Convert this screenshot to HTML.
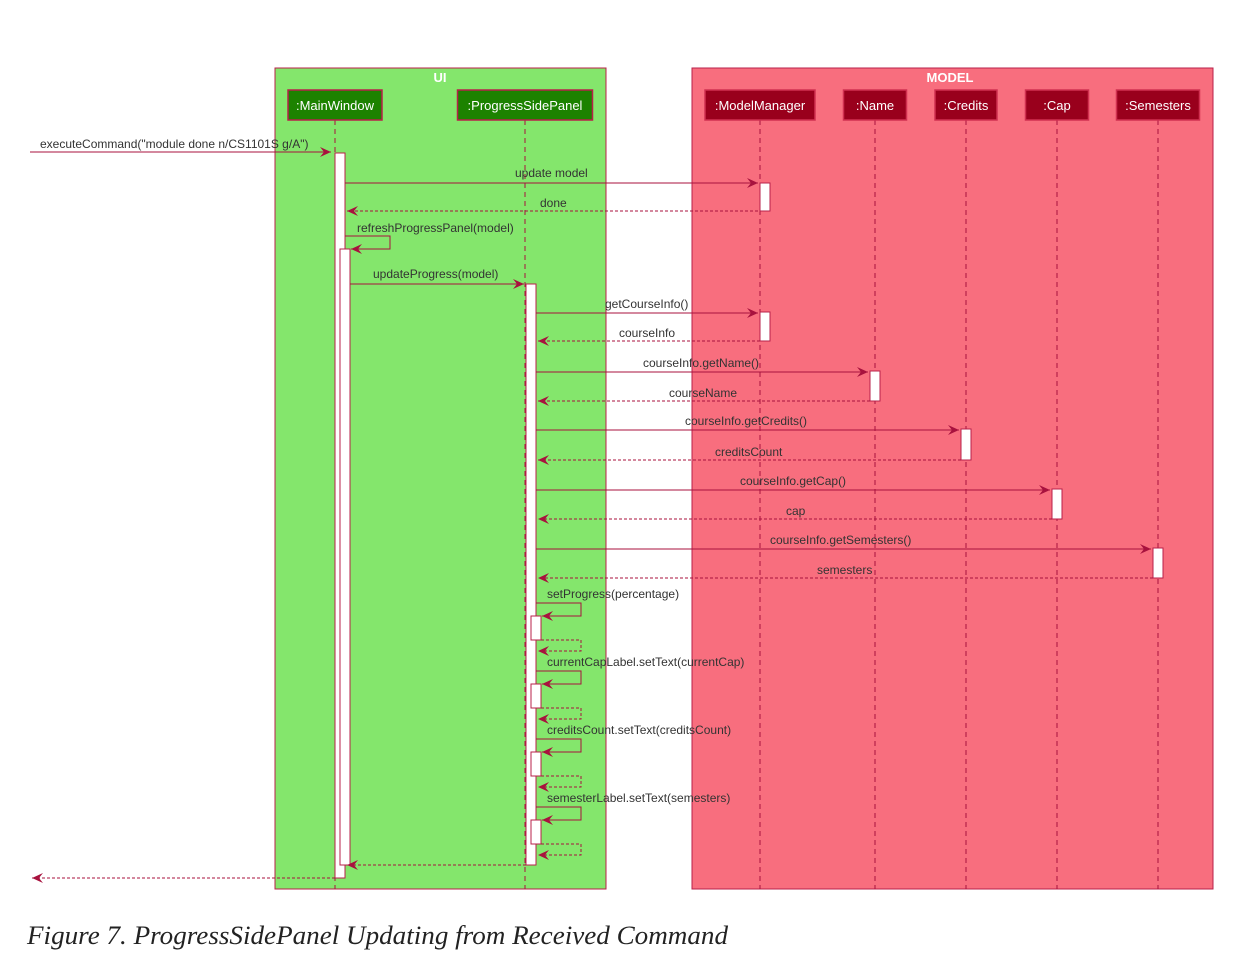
<!DOCTYPE html>
<html><head><meta charset="utf-8"><style>
html,body{margin:0;padding:0;background:#fff;width:1244px;height:960px;overflow:hidden}
svg text{font-family:"Liberation Sans",sans-serif}
svg text.cap{font-family:"Liberation Serif",serif}
</style></head><body>
<svg id="d" width="1244" height="960" viewBox="0 0 1244 960">
<defs><marker id="ah" markerWidth="12" markerHeight="10" refX="11" refY="5" orient="auto" markerUnits="userSpaceOnUse"><path d="M0,0 L11,5 L0,10 L4,5 Z" fill="#a8123e"/></marker></defs>
<rect x="275" y="68" width="331" height="821" fill="#84e66c" stroke="#b8204a" stroke-width="1"/>
<text x="440" y="82" fill="#fff" font-size="13" font-weight="bold" text-anchor="middle">UI</text>
<rect x="692" y="68" width="521" height="821" fill="#f86e7e" stroke="#b8204a" stroke-width="1"/>
<text x="950" y="82" fill="#fff" font-size="13" font-weight="bold" text-anchor="middle">MODEL</text>
<g id="g"></g>
<text class="cap" x="27" y="944" font-style="italic" font-size="26" textLength="701" lengthAdjust="spacingAndGlyphs" fill="#222">Figure 7. ProgressSidePanel Updating from Received Command</text>
</svg>
<script>
const names=[":MainWindow",":ProgressSidePanel",":ModelManager",":Name",":Credits",":Cap",":Semesters"];
const lifeX=[335,525,760,875,966,1057,1158];
const boxW=[94,135,110,63,62,63,83];
const calls=[["getCourseInfo()","courseInfo",2,313,341,605,619],["courseInfo.getName()","courseName",3,372,401,643,669],["courseInfo.getCredits()","creditsCount",4,430,460,685,715],["courseInfo.getCap()","cap",5,490,519,740,786],["courseInfo.getSemesters()","semesters",6,549,578,770,817]];
const selfCalls=["setProgress(percentage)","currentCapLabel.setText(currentCap)","creditsCount.setText(creditsCount)","semesterLabel.setText(semesters)"];
const g=document.getElementById('g');const NS="http://www.w3.org/2000/svg";
function el(t,a,name){const e=document.createElementNS(NS,t);for(const k in a)e.setAttribute(k,a[k]);


g.appendChild(e);return e;}
function txt(x,y,s,name){const e=el('text',{x:x,y:y,'font-size':12,fill:'#333'},name);e.textContent=s;return e;}
const C="#a8123e";
function line(pts,dash,name){el('polyline',{points:pts.map(p=>p.join(',')).join(' '),fill:'none',stroke:C,'stroke-width':1,'stroke-dasharray':dash?'3,2':'none','marker-end':'url(#ah)'},name);}
function act(x,y1,y2,name){el('rect',{x:x,y:y1,width:10,height:y2-y1,fill:'#fff',stroke:'#b8204a','stroke-width':1},name);}
names.forEach((n,i)=>{
 el('line',{x1:lifeX[i],y1:120,x2:lifeX[i],y2:889,stroke:'#a8123e','stroke-dasharray':'5,4'},'lifeline-'+i);
 const green=i<2;
 el('rect',{x:lifeX[i]-boxW[i]/2,y:90,width:boxW[i],height:30,fill:green?'#1c8200':'#99001c',stroke:green?'#b8204a':'#d03050','stroke-width':1.5},'participant-box-'+i);
 const t=el('text',{x:lifeX[i],y:110,'font-size':13,fill:'#fff','text-anchor':'middle'},'participant-label-'+i);t.textContent=n;
});
act(335,153,878,'mainwindow-activation');act(340,249,865,'mainwindow-nested-activation');act(526,284,865,'psp-activation');
calls.forEach((c,i)=>{const ax=c[2]===2?lifeX[2]:lifeX[c[2]]-5;act(ax,c[3]-1,c[4],'activation-'+i);});
act(760,183,211,'modelmanager-activation');
selfCalls.forEach((s,i)=>act(531,616+68*i,640+68*i,'self-activation-'+i));
line([[30,152],[331,152]],false,'execute-command-arrow');txt(40,148,'executeCommand("module done n/CS1101S g/A")','execute-command-label');
line([[345,183],[758,183]],false,'update-model-arrow');txt(515,177,'update model','update-model-label');
line([[758,211],[347,211]],true,'done-arrow');txt(540,207,'done','done-label');
line([[345,236],[390,236],[390,249],[351,249]],false,'refresh-arrow');txt(357,232,'refreshProgressPanel(model)','refresh-label');
line([[350,284],[524,284]],false,'update-progress-arrow');txt(373,278,'updateProgress(model)','update-progress-label');
calls.forEach((c,i)=>{const ax=c[2]===2?lifeX[2]:lifeX[c[2]]-5;
 line([[536,c[3]],[ax-2,c[3]]],false,'call-arrow-'+i);txt(c[5],c[3]-5,c[0],'call-label-'+i);
 line([[ax,c[4]],[538,c[4]]],true,'return-arrow-'+i);txt(c[6],c[4]-4,c[1],'return-label-'+i);});
selfCalls.forEach((s,i)=>{const o=68*i;
 line([[536,603+o],[581,603+o],[581,616+o],[542,616+o]],false,'self-call-arrow-'+i);txt(547,598+o,s,'self-call-label-'+i);
 line([[541,640+o],[581,640+o],[581,651+o],[538,651+o]],true,'self-return-arrow-'+i);});
line([[526,865],[347,865]],true,'psp-return-arrow');
line([[335,878],[32,878]],true,'final-return-arrow');
</script>
</body></html>
